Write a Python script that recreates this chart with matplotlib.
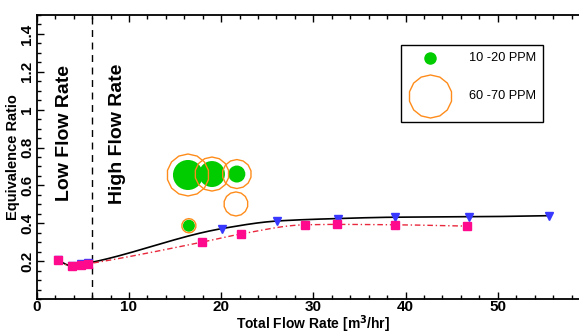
import numpy as np
import matplotlib
matplotlib.use("Agg")
import matplotlib.pyplot as plt
from matplotlib.ticker import MultipleLocator, FixedLocator
from matplotlib.patches import Rectangle
from matplotlib.lines import Line2D

plt.rcParams['font.family'] = ['Liberation Sans', 'DejaVu Sans']

# ---- data ----
flow_sq = [2.27, 3.78, 4.76, 5.59, 17.9, 22.1, 29.1, 32.6, 38.9, 46.7]
phi_sq = [0.205, 0.172, 0.180, 0.186, 0.300, 0.343, 0.392, 0.394, 0.392, 0.385]

flow_tri = [2.27, 3.78, 4.76, 5.59, 20.1, 26.1, 32.7, 38.8, 46.9, 55.5]
phi_tri = [0.205, 0.175, 0.183, 0.190, 0.372, 0.412, 0.425, 0.432, 0.434, 0.440]

flow_green = [16.4, 19.0, 21.7, 16.5]
phi_green = [0.655, 0.660, 0.660, 0.387]
size_green = [467, 350, 150, 75]

flow_orange = [16.4, 19.0, 21.7, 21.6, 16.5]
phi_orange = [0.655, 0.660, 0.660, 0.502, 0.387]
size_orange = [914, 600, 436, 300, 105]

x_split = 6.0
region_labels = ["Low Flow Rate", "High Flow Rate"]
legend_labels = ["10 -20 PPM", "60 -70 PPM"]


def pchip(x, y, xn):
    x = np.asarray(x, float); y = np.asarray(y, float)
    h = np.diff(x); d = np.diff(y) / h
    n = len(x)
    m = np.zeros(n)
    for k in range(1, n - 1):
        if d[k - 1] * d[k] <= 0:
            m[k] = 0.0
        else:
            w1 = 2 * h[k] + h[k - 1]; w2 = h[k] + 2 * h[k - 1]
            m[k] = (w1 + w2) / (w1 / d[k - 1] + w2 / d[k])
    m[0] = d[0]; m[-1] = d[-1]
    out = np.empty_like(xn)
    idx = np.clip(np.searchsorted(x, xn) - 1, 0, n - 2)
    for i, (xi, k) in enumerate(zip(xn, idx)):
        t = (xi - x[k]) / h[k]
        h00 = 2 * t**3 - 3 * t**2 + 1; h10 = t**3 - 2 * t**2 + t
        h01 = -2 * t**3 + 3 * t**2; h11 = t**3 - t**2
        out[i] = h00 * y[k] + h10 * h[k] * m[k] + h01 * y[k + 1] + h11 * h[k] * m[k + 1]
    return out


W, H = 579, 334
fig = plt.figure(figsize=(W / 100, H / 100), dpi=100)
ax = fig.add_axes([36.75 / W, 35 / H, (590 - 36.75) / W, 284 / H])
ax.set_xlim(0, 60)
ax.set_ylim(0, 1.5)

# curves
xs = np.linspace(flow_tri[0], flow_tri[-1], 400)
ax.plot(xs, pchip(flow_tri, phi_tri, xs), color='black', lw=1.2, zorder=3)
xr = np.linspace(flow_sq[0], flow_sq[-1], 400)
ax.plot(xr, pchip(flow_sq, phi_sq, xr), color='#e8283c', lw=1.0,
        dashes=(4, 2, 1, 2), zorder=3)

ax.plot(flow_tri, phi_tri, linestyle='none', marker='v', ms=5.5,
        color='#3838ff', zorder=4)
ax.plot(flow_sq, phi_sq, linestyle='none', marker='s', ms=5.2,
        color='#ff0a8c', zorder=5)

# bubbles
ax.scatter(flow_green, phi_green, s=size_green, color='#00cc00',
           edgecolors='none', zorder=6)
ax.scatter(flow_orange, phi_orange, s=size_orange, marker=(14, 0, 0),
           facecolors='none', edgecolors='#ff8c1a', linewidths=1.0, zorder=7)

# split line
ax.axvline(x_split, color='black', lw=1.0, dashes=(5, 4), zorder=2)
ax.text(3.0, 0.875, region_labels[0], rotation=90, ha='center', va='center',
        fontsize=14, fontweight='bold')
ax.text(8.8, 0.875, region_labels[1], rotation=90, ha='center', va='center',
        fontsize=14, fontweight='bold')

# axes styling
ax.xaxis.set_major_locator(FixedLocator([0, 10, 20, 30, 40, 50]))
ax.xaxis.set_minor_locator(MultipleLocator(2))
ax.yaxis.set_major_locator(FixedLocator([0.2, 0.4, 0.6, 0.8, 1.0, 1.2, 1.4]))
ax.yaxis.set_minor_locator(MultipleLocator(0.05))
ax.set_yticklabels(['0.2', '0.4', '0.6', '0.8', '1', '1.2', '1.4'],
                   rotation=90, va='center')
ax.tick_params(which='both', direction='in', top=True, right=True,
               labelsize=11, width=1.0)
ax.tick_params(which='major', length=5)
ax.tick_params(which='minor', length=3)
ax.tick_params(axis='x', pad=1.0)
ax.tick_params(axis='y', pad=2)
for lab in ax.get_xticklabels() + ax.get_yticklabels():
    lab.set_fontweight('bold')
for sp in ax.spines.values():
    sp.set_linewidth(1.3)

ax.set_xlabel('Total Flow Rate [m$^\\mathbf{3}$/hr]', fontsize=10,
              fontweight='bold', labelpad=-1.0)
ax.set_ylabel('Equivalence Ratio', fontsize=10.5, fontweight='bold', labelpad=0)

# legend (manual box)
fig.patches.append(Rectangle((401 / W, 1 - 121.7 / H), 142.3 / W, 76.7 / H,
                             transform=fig.transFigure, fill=False,
                             edgecolor='black', lw=1.0))
fig.lines.append(Line2D([430 / W], [1 - 58.3 / H], transform=fig.transFigure,
                        marker='o', ms=9, color='#00cc00', mec='none'))
fig.lines.append(Line2D([430 / W], [1 - 96 / H], transform=fig.transFigure,
                        marker=(14, 0, 0), ms=31, mfc='none', mec='#ff8c1a',
                        mew=1.0))
fig.text(469 / W, 1 - 58.3 / H, legend_labels[0], fontsize=9.2, va='center')
fig.text(469 / W, 1 - 96 / H, legend_labels[1], fontsize=9.2, va='center')

fig.savefig('out.png', dpi=100)
